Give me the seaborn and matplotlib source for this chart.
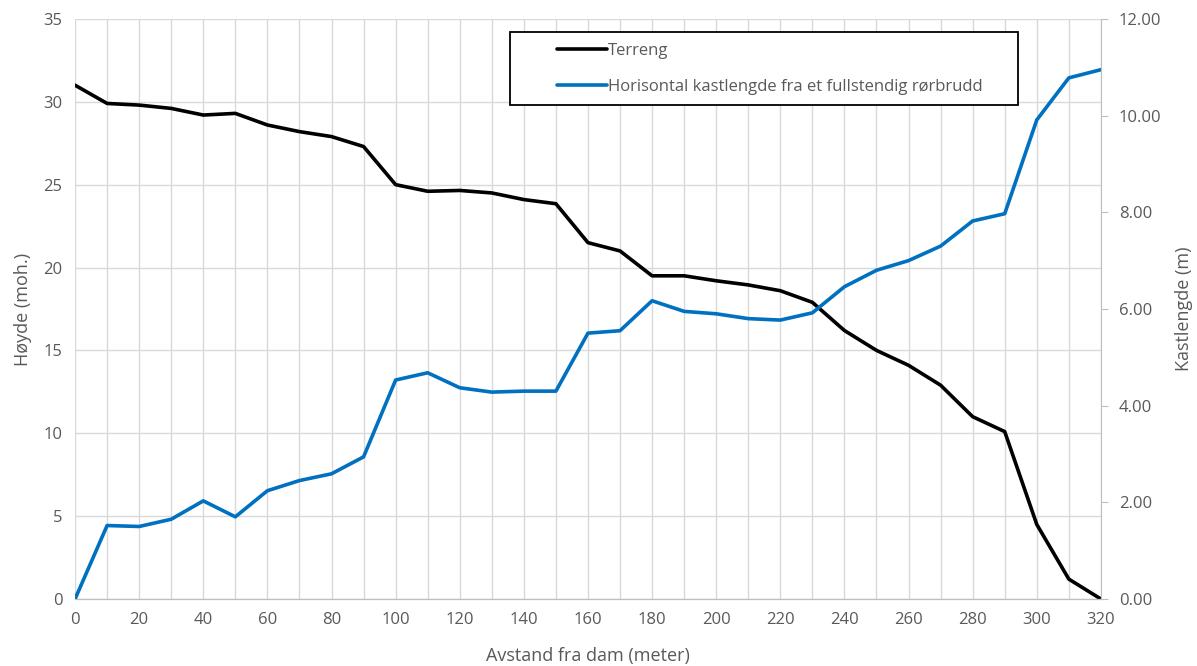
import matplotlib
matplotlib.use('Agg')
import matplotlib.pyplot as plt
import matplotlib.patches as mpatches
from matplotlib.ticker import MultipleLocator, FormatStrFormatter
import seaborn as sns
import pandas as pd

# Data
distance = [0, 10, 20, 30, 40, 50, 60, 70, 80, 90, 100, 110, 120, 130, 140, 150, 160,
            170, 180, 190, 200, 210, 220, 230, 240, 250, 260, 270, 280, 290, 300, 310, 320]
terreng = [31.0, 29.9, 29.8, 29.6, 29.2, 29.3, 28.6, 28.2, 27.9, 27.3, 25.0, 24.6, 24.65,
           24.5, 24.1, 23.85, 21.5, 21.0, 19.5, 19.5, 19.2, 18.95, 18.6, 17.9, 16.2, 15.0,
           14.1, 12.9, 11.0, 10.1, 4.5, 1.2, 0.0]
kastlengde = [0.0, 1.52, 1.50, 1.65, 2.03, 1.70, 2.24, 2.45, 2.59, 2.94, 4.53, 4.68, 4.37,
              4.28, 4.30, 4.30, 5.50, 5.55, 6.17, 5.95, 5.90, 5.80, 5.77, 5.92, 6.46, 6.80,
              7.00, 7.30, 7.82, 7.97, 9.91, 10.78, 10.95]

df = pd.DataFrame({'avstand': distance, 'terreng': terreng, 'kast': kastlengde})

sns.set_style('white')
plt.rcParams['font.family'] = ['Open Sans', 'DejaVu Sans']

GRAY = '#595959'
GRID = '#d9d9d9'
BLUE = '#0070C0'

fig = plt.figure(figsize=(11.97, 6.66), dpi=100)
ax = fig.add_axes([0.0627, 0.1006, 0.857, 0.871])
ax2 = ax.twinx()

sns.lineplot(ax=ax, data=df, x='avstand', y='terreng', color='black', linewidth=2.6,
             label='Terreng', legend=False)
sns.lineplot(ax=ax2, data=df, x='avstand', y='kast', color=BLUE, linewidth=2.6,
             label='Horisontal kastlengde fra et fullstendig rørbrudd', legend=False)

ax.set_xlim(0, 320)
ax.set_ylim(0, 35)
ax2.set_ylim(0, 12)

ax.xaxis.set_major_locator(MultipleLocator(20))
ax.xaxis.set_minor_locator(MultipleLocator(10))
ax.yaxis.set_major_locator(MultipleLocator(5))
ax2.yaxis.set_major_locator(MultipleLocator(2))
ax2.yaxis.set_major_formatter(FormatStrFormatter('%.2f'))

ax.grid(True, which='both', axis='x', color=GRID, linewidth=1)
ax.grid(True, which='major', axis='y', color=GRID, linewidth=1)
ax.set_axisbelow(True)

for a in (ax, ax2):
    for side in ('top', 'left', 'right'):
        a.spines[side].set_visible(False)
    a.spines['bottom'].set_color('#bfbfbf')
ax2.spines['right'].set_visible(True)
ax2.spines['right'].set_color('#bfbfbf')

ax.tick_params(axis='both', which='both', length=0, labelsize=12, labelcolor=GRAY, pad=9)
ax2.tick_params(axis='y', length=5, color='#bfbfbf', labelsize=12, labelcolor=GRAY, pad=8)

ax.set_xlabel('Avstand fra dam (meter)', fontsize=13, color=GRAY, labelpad=14)
ax.set_ylabel('Høyde (moh.)', fontsize=13, color=GRAY, labelpad=8)
ax2.set_ylabel('Kastlengde (m)', fontsize=13, color=GRAY, labelpad=10)

# Legend frame drawn separately, entries placed inside it
frame = mpatches.Rectangle((0.424, 0.852), 0.495, 0.126, transform=ax.transAxes,
                           facecolor='white', edgecolor='black', linewidth=1.3, zorder=5)
ax2.add_patch(frame)
h1, l1 = ax.get_legend_handles_labels()
h2, l2 = ax2.get_legend_handles_labels()
leg = ax2.legend(h1 + h2, l1 + l2, loc='upper left', bbox_to_anchor=(0.455, 0.985),
                 frameon=False, fontsize=12, handlelength=3.0, handletextpad=0.05,
                 labelspacing=1.2, labelcolor=GRAY)
leg.set_zorder(6)

fig.savefig('out.png', dpi=100)
